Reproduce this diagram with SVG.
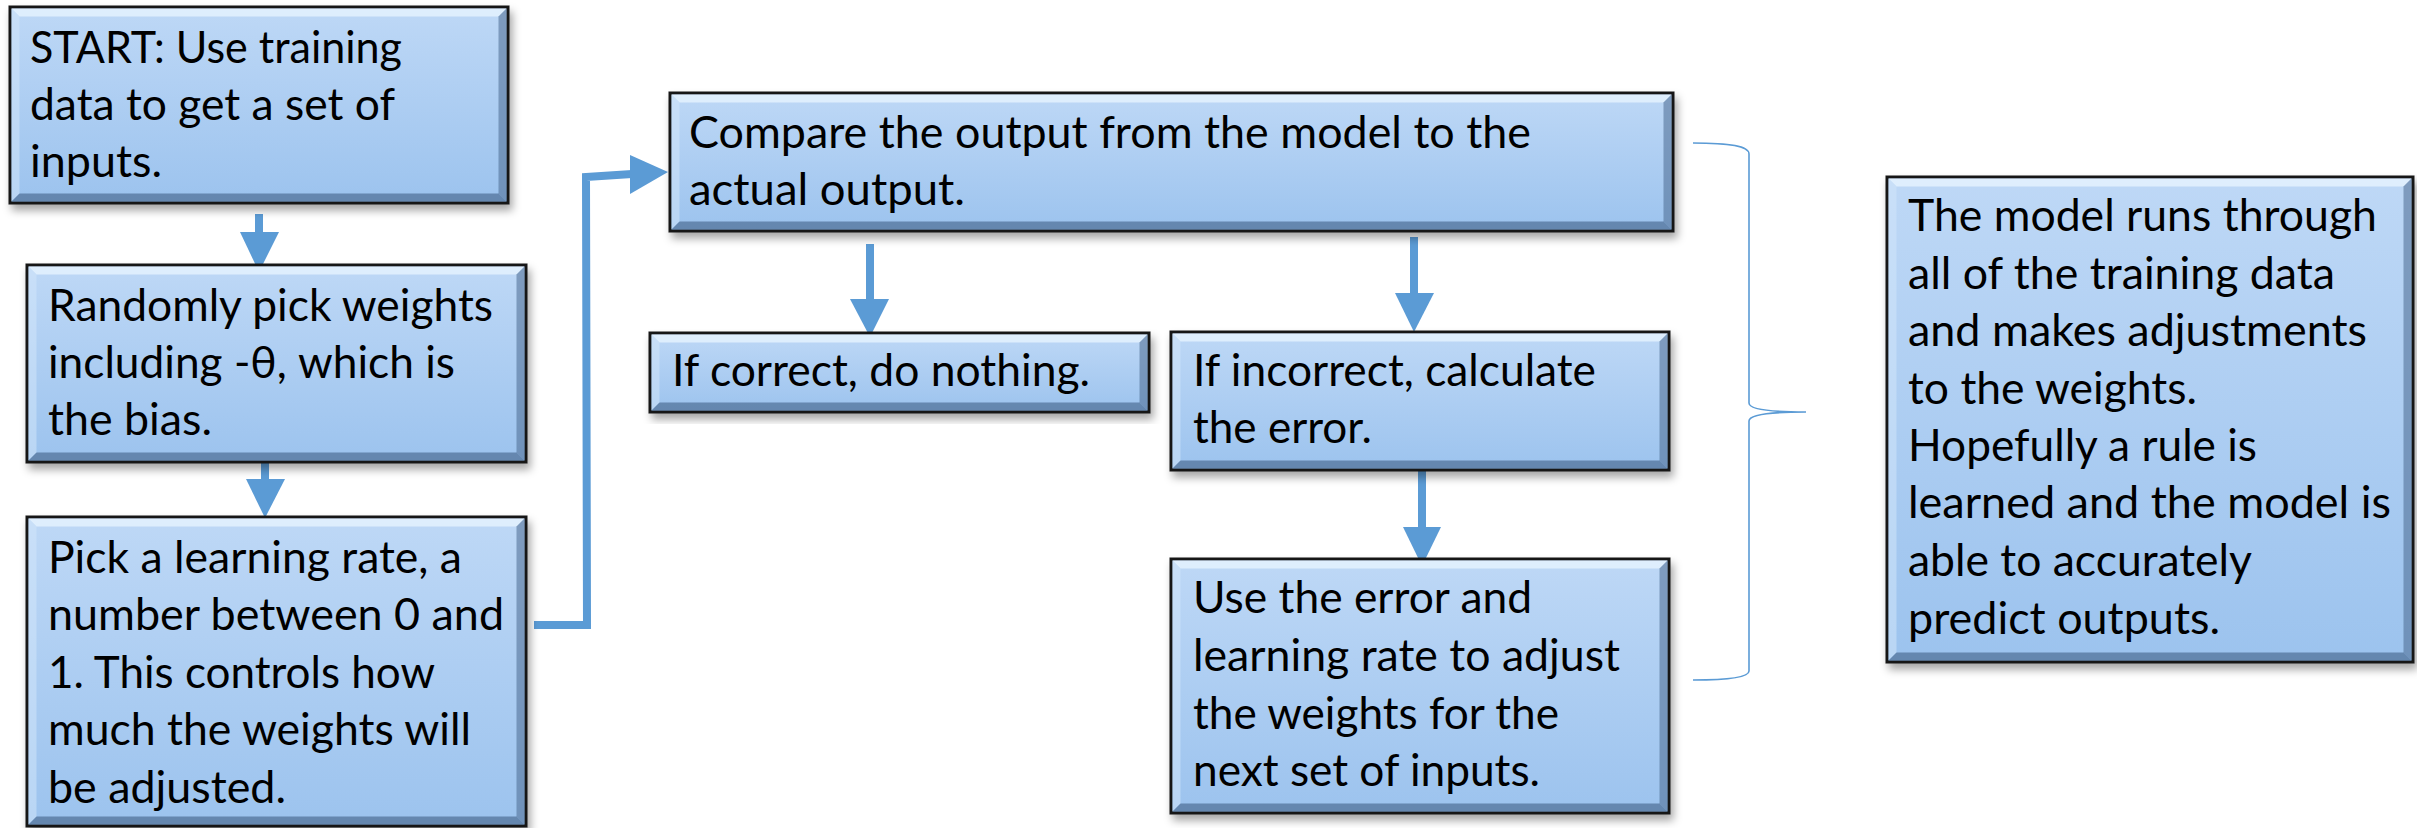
<svg xmlns="http://www.w3.org/2000/svg" width="2417" height="828" viewBox="0 0 2417 828">
<defs>
<linearGradient id="body" x1="0" y1="0" x2="0" y2="1">
<stop offset="0" stop-color="#bed8f6"/>
<stop offset="1" stop-color="#9cc3ee"/>
</linearGradient>
<filter id="sh" x="-5%" y="-5%" width="112%" height="120%">
<feDropShadow dx="3" dy="6" stdDeviation="4" flood-color="#000" flood-opacity="0.35"/>
</filter>
<style>
.box{fill:url(#body);stroke:#141414;stroke-width:3;filter:url(#sh)}
.bt{fill:#eaf6ff;opacity:0.75}
.bl{fill:#d2e6fa;opacity:0.55}
.br{fill:#4a6a90;opacity:0.55}
.bb{fill:#3f5f85;opacity:0.6}
.t{font-family:Lato,"Open Sans",sans-serif;font-size:44px;fill:#000}
.ln{fill:none;stroke:#5b9bd5;stroke-width:8}
.hd{fill:#5b9bd5}
.brace{fill:none;stroke:#5b9bd5;stroke-width:1.6}
</style>
</defs>
<rect width="2417" height="828" fill="#fff"/>

<g id="connectors">
<line class="ln" x1="259" y1="214" x2="259" y2="234"/>
<polygon class="hd" points="240,232 279,232 259,272"/>
<line class="ln" x1="265" y1="461" x2="265" y2="481"/>
<polygon class="hd" points="246,479 285,479 265,518"/>
<polyline class="ln" points="534,625 587,625 586,177 632,174" stroke-linejoin="miter"/>
<polygon class="hd" points="630,155 668,172 630,194"/>
<line class="ln" x1="870" y1="244" x2="870" y2="301"/>
<polygon class="hd" points="850,299 889,299 870,337"/>
<line class="ln" x1="1414" y1="237" x2="1414" y2="295"/>
<polygon class="hd" points="1395,293 1434,293 1414,332"/>
<line class="ln" x1="1422" y1="470" x2="1422" y2="529"/>
<polygon class="hd" points="1403,527 1441,527 1422,566"/>
<path class="brace" d="M1693,143 C1730,143 1749,146 1749,154 L1749,403 C1749,409 1770,412 1806,412 C1770,412 1749,415 1749,421 L1749,671 C1749,677 1730,680 1693,680"/>
</g>

<g id="n1">
<rect class="box" x="10" y="7" width="498" height="196"/>
<polygon class="bt" points="11.5,8.5 506.5,8.5 498.5,16.5 19.5,16.5"/>
<polygon class="bl" points="11.5,8.5 19.5,16.5 19.5,193.5 11.5,201.5"/>
<polygon class="br" points="506.5,8.5 506.5,201.5 498.5,193.5 498.5,16.5"/>
<polygon class="bb" points="11.5,201.5 19.5,193.5 498.5,193.5 506.5,201.5"/>
<text class="t" x="30" y="63" textLength="372" lengthAdjust="spacingAndGlyphs">START: Use training</text>
<text class="t" x="30" y="120" textLength="365" lengthAdjust="spacingAndGlyphs">data to get a set of</text>
<text class="t" x="30" y="177" textLength="132" lengthAdjust="spacingAndGlyphs">inputs.</text>
</g>

<g id="n2">
<rect class="box" x="27" y="265" width="499" height="197"/>
<polygon class="bt" points="28.5,266.5 524.5,266.5 516.5,274.5 36.5,274.5"/>
<polygon class="bl" points="28.5,266.5 36.5,274.5 36.5,452.5 28.5,460.5"/>
<polygon class="br" points="524.5,266.5 524.5,460.5 516.5,452.5 516.5,274.5"/>
<polygon class="bb" points="28.5,460.5 36.5,452.5 516.5,452.5 524.5,460.5"/>
<text class="t" x="48" y="321" textLength="445" lengthAdjust="spacingAndGlyphs">Randomly pick weights</text>
<text class="t" x="48" y="378" textLength="407" lengthAdjust="spacingAndGlyphs">including -θ, which is</text>
<text class="t" x="48" y="435" textLength="164" lengthAdjust="spacingAndGlyphs">the bias.</text>
</g>

<g id="n3">
<rect class="box" x="27" y="517" width="499" height="309"/>
<polygon class="bt" points="28.5,518.5 524.5,518.5 516.5,526.5 36.5,526.5"/>
<polygon class="bl" points="28.5,518.5 36.5,526.5 36.5,816.5 28.5,824.5"/>
<polygon class="br" points="524.5,518.5 524.5,824.5 516.5,816.5 516.5,526.5"/>
<polygon class="bb" points="28.5,824.5 36.5,816.5 516.5,816.5 524.5,824.5"/>
<text class="t" x="48" y="573" textLength="414" lengthAdjust="spacingAndGlyphs">Pick a learning rate, a</text>
<text class="t" x="48" y="630" textLength="456" lengthAdjust="spacingAndGlyphs">number between 0 and</text>
<text class="t" x="48" y="688" textLength="387" lengthAdjust="spacingAndGlyphs">1. This controls how</text>
<text class="t" x="48" y="745" textLength="423" lengthAdjust="spacingAndGlyphs">much the weights will</text>
<text class="t" x="48" y="803" textLength="238" lengthAdjust="spacingAndGlyphs">be adjusted.</text>
</g>

<g id="n4">
<rect class="box" x="670" y="93" width="1003" height="138"/>
<polygon class="bt" points="671.5,94.5 1671.5,94.5 1663.5,102.5 679.5,102.5"/>
<polygon class="bl" points="671.5,94.5 679.5,102.5 679.5,221.5 671.5,229.5"/>
<polygon class="br" points="1671.5,94.5 1671.5,229.5 1663.5,221.5 1663.5,102.5"/>
<polygon class="bb" points="671.5,229.5 679.5,221.5 1663.5,221.5 1671.5,229.5"/>
<text class="t" x="689" y="148" textLength="842" lengthAdjust="spacingAndGlyphs">Compare the output from the model to the</text>
<text class="t" x="689" y="205" textLength="276" lengthAdjust="spacingAndGlyphs">actual output.</text>
</g>

<g id="n5">
<rect class="box" x="650" y="333" width="499" height="79"/>
<polygon class="bt" points="651.5,334.5 1147.5,334.5 1139.5,342.5 659.5,342.5"/>
<polygon class="bl" points="651.5,334.5 659.5,342.5 659.5,402.5 651.5,410.5"/>
<polygon class="br" points="1147.5,334.5 1147.5,410.5 1139.5,402.5 1139.5,342.5"/>
<polygon class="bb" points="651.5,410.5 659.5,402.5 1139.5,402.5 1147.5,410.5"/>
<text class="t" x="672" y="386" textLength="418" lengthAdjust="spacingAndGlyphs">If correct, do nothing.</text>
</g>

<g id="n6">
<rect class="box" x="1171" y="332" width="498" height="138"/>
<polygon class="bt" points="1172.5,333.5 1667.5,333.5 1659.5,341.5 1180.5,341.5"/>
<polygon class="bl" points="1172.5,333.5 1180.5,341.5 1180.5,460.5 1172.5,468.5"/>
<polygon class="br" points="1667.5,333.5 1667.5,468.5 1659.5,460.5 1659.5,341.5"/>
<polygon class="bb" points="1172.5,468.5 1180.5,460.5 1659.5,460.5 1667.5,468.5"/>
<text class="t" x="1193" y="386" textLength="403" lengthAdjust="spacingAndGlyphs">If incorrect, calculate</text>
<text class="t" x="1193" y="443" textLength="179" lengthAdjust="spacingAndGlyphs">the error.</text>
</g>

<g id="n7">
<rect class="box" x="1171" y="559" width="498" height="254"/>
<polygon class="bt" points="1172.5,560.5 1667.5,560.5 1659.5,568.5 1180.5,568.5"/>
<polygon class="bl" points="1172.5,560.5 1180.5,568.5 1180.5,803.5 1172.5,811.5"/>
<polygon class="br" points="1667.5,560.5 1667.5,811.5 1659.5,803.5 1659.5,568.5"/>
<polygon class="bb" points="1172.5,811.5 1180.5,803.5 1659.5,803.5 1667.5,811.5"/>
<text class="t" x="1193" y="613" textLength="339" lengthAdjust="spacingAndGlyphs">Use the error and</text>
<text class="t" x="1193" y="671" textLength="427" lengthAdjust="spacingAndGlyphs">learning rate to adjust</text>
<text class="t" x="1193" y="729" textLength="366" lengthAdjust="spacingAndGlyphs">the weights for the</text>
<text class="t" x="1193" y="786" textLength="347" lengthAdjust="spacingAndGlyphs">next set of inputs.</text>
</g>

<g id="n8">
<rect class="box" x="1887" y="177" width="526" height="485"/>
<polygon class="bt" points="1888.5,178.5 2411.5,178.5 2403.5,186.5 1896.5,186.5"/>
<polygon class="bl" points="1888.5,178.5 1896.5,186.5 1896.5,652.5 1888.5,660.5"/>
<polygon class="br" points="2411.5,178.5 2411.5,660.5 2403.5,652.5 2403.5,186.5"/>
<polygon class="bb" points="1888.5,660.5 1896.5,652.5 2403.5,652.5 2411.5,660.5"/>
<text class="t" x="1908" y="231" textLength="469" lengthAdjust="spacingAndGlyphs">The model runs through</text>
<text class="t" x="1908" y="289" textLength="427" lengthAdjust="spacingAndGlyphs">all of the training data</text>
<text class="t" x="1908" y="346" textLength="459" lengthAdjust="spacingAndGlyphs">and makes adjustments</text>
<text class="t" x="1908" y="404" textLength="289" lengthAdjust="spacingAndGlyphs">to the weights.</text>
<text class="t" x="1908" y="461" textLength="349" lengthAdjust="spacingAndGlyphs">Hopefully a rule is</text>
<text class="t" x="1908" y="518" textLength="483" lengthAdjust="spacingAndGlyphs">learned and the model is</text>
<text class="t" x="1908" y="576" textLength="344" lengthAdjust="spacingAndGlyphs">able to accurately</text>
<text class="t" x="1908" y="634" textLength="312" lengthAdjust="spacingAndGlyphs">predict outputs.</text>
</g>
</svg>
